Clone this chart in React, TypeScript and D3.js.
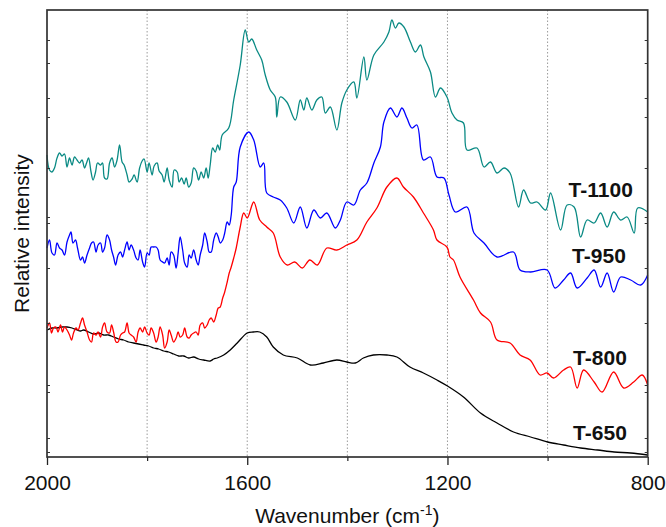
import React, { useRef, useEffect } from 'react';
import * as d3 from 'd3';

// Raman spectra, [wavenumber (cm-1), relative intensity (a.u.)]
const t650: [number, number][] = [
  [2000, 127], [1990, 129], [1980, 129], [1970, 130], [1960, 130], [1950, 129], [1940, 127],
  [1933, 126], [1927, 127], [1917, 125], [1907, 123], [1897, 124], [1887, 122], [1877, 122],
  [1867, 120], [1857, 118], [1847, 117], [1837, 115], [1827, 114], [1817, 113], [1807, 112],
  [1797, 111], [1787, 109], [1777, 108], [1767, 106], [1757, 105], [1747, 103], [1737, 101],
  [1727, 101], [1717, 99], [1707, 100], [1697, 98], [1687, 97], [1674, 96], [1667, 98],
  [1660, 99], [1647, 102], [1634, 107], [1620, 114], [1600, 124], [1588, 125], [1575, 125],
  [1561, 120], [1548, 110], [1528, 102], [1500, 99], [1474, 92], [1448, 94], [1421, 97],
  [1401, 95], [1384, 94], [1368, 99], [1348, 102], [1321, 102], [1301, 100], [1275, 90],
  [1248, 84], [1221, 77], [1200, 71], [1168, 60], [1134, 44], [1101, 34], [1068, 25],
  [1034, 20], [1000, 15], [968, 12], [934, 9], [900, 7], [867, 5], [834, 4], [800, 2],
];

const t800: [number, number][] = [
  [2000, 129], [1995, 134], [1991, 124], [1987, 129], [1982, 130], [1978, 125], [1973, 132],
  [1969, 125], [1965, 130], [1960, 127], [1955, 122], [1951, 117], [1947, 124], [1942, 129],
  [1938, 127], [1933, 134], [1929, 139], [1925, 132], [1920, 125], [1915, 117], [1911, 115],
  [1907, 124], [1902, 122], [1898, 125], [1893, 120], [1889, 130], [1885, 134], [1880, 125],
  [1875, 124], [1871, 132], [1867, 125], [1862, 115], [1858, 115], [1853, 122], [1849, 124],
  [1845, 125], [1840, 134], [1836, 124], [1832, 122], [1827, 120], [1822, 115], [1818, 125],
  [1814, 129], [1809, 125], [1805, 130], [1800, 124], [1796, 122], [1792, 129], [1787, 124],
  [1782, 115], [1778, 120], [1774, 130], [1769, 122], [1765, 109], [1760, 115], [1756, 127],
  [1752, 122], [1747, 115], [1742, 119], [1738, 125], [1734, 120], [1729, 122], [1725, 129],
  [1720, 120], [1716, 119], [1712, 122], [1707, 124], [1702, 125], [1698, 122], [1694, 132],
  [1689, 134], [1685, 129], [1680, 132], [1676, 137], [1672, 139], [1667, 135], [1662, 142],
  [1658, 149], [1654, 150], [1649, 159], [1645, 165], [1640, 175], [1636, 184], [1632, 190],
  [1627, 199], [1622, 209], [1614, 230], [1607, 244], [1600, 239], [1587, 255], [1575, 237],
  [1561, 230], [1548, 224], [1534, 200], [1520, 192], [1505, 195], [1490, 189], [1475, 197],
  [1460, 192], [1441, 209], [1421, 207], [1401, 212], [1381, 217], [1361, 235], [1341, 249],
  [1321, 270], [1301, 279], [1288, 270], [1268, 260], [1248, 244], [1228, 227], [1221, 217],
  [1201, 210], [1195, 200], [1188, 197], [1175, 180], [1148, 157], [1134, 144], [1114, 135],
  [1101, 117], [1075, 114], [1055, 102], [1035, 97], [1015, 82], [1001, 84], [988, 79],
  [968, 87], [954, 90], [941, 69], [928, 87], [907, 75], [891, 65], [868, 85], [848, 69],
  [828, 75], [811, 82], [800, 72],
];

const t950: [number, number][] = [
  [2000, 209], [1995, 217], [1990, 204], [1985, 202], [1980, 214], [1975, 209], [1970, 207],
  [1965, 202], [1960, 215], [1955, 222], [1952, 225], [1948, 214], [1943, 217], [1939, 209],
  [1933, 197], [1929, 200], [1925, 194], [1920, 202], [1915, 209], [1911, 214], [1907, 215],
  [1902, 205], [1898, 212], [1893, 214], [1889, 205], [1885, 209], [1880, 222], [1875, 217],
  [1871, 207], [1867, 200], [1863, 192], [1858, 202], [1853, 205], [1849, 200], [1845, 207],
  [1840, 215], [1836, 207], [1832, 212], [1827, 207], [1822, 199], [1818, 197], [1814, 207],
  [1809, 195], [1805, 190], [1800, 204], [1796, 202], [1792, 210], [1787, 210], [1782, 210],
  [1778, 207], [1774, 197], [1769, 195], [1765, 194], [1760, 199], [1756, 192], [1752, 205],
  [1747, 202], [1742, 189], [1738, 204], [1734, 220], [1729, 207], [1725, 194], [1720, 190],
  [1716, 202], [1712, 199], [1707, 207], [1702, 197], [1698, 192], [1694, 202], [1689, 212],
  [1685, 224], [1680, 215], [1676, 205], [1672, 205], [1667, 217], [1662, 224], [1658, 220],
  [1654, 214], [1649, 217], [1645, 224], [1640, 235], [1636, 232], [1632, 242], [1627, 270],
  [1622, 275], [1614, 310], [1597, 325], [1587, 317], [1574, 290], [1567, 294], [1561, 264],
  [1548, 260], [1534, 257], [1521, 249], [1507, 234], [1494, 250], [1481, 229], [1467, 247],
  [1454, 239], [1441, 244], [1424, 229], [1414, 237], [1401, 255], [1387, 252], [1374, 267],
  [1361, 274], [1347, 294], [1334, 310], [1327, 335], [1314, 349], [1301, 340], [1291, 349],
  [1281, 339], [1271, 329], [1261, 332], [1248, 297], [1234, 300], [1221, 280], [1207, 279],
  [1197, 262], [1184, 245], [1161, 250], [1147, 224], [1127, 214], [1101, 200], [1068, 205],
  [1055, 187], [1034, 185], [1001, 187], [985, 169], [968, 177], [954, 184], [941, 169],
  [921, 179], [907, 187], [894, 170], [881, 184], [868, 165], [854, 180], [834, 177],
  [814, 172], [800, 182],
];

const t1100: [number, number][] = [
  [2000, 302], [1995, 287], [1990, 285], [1985, 289], [1980, 299], [1975, 304], [1970, 301],
  [1965, 303], [1960, 290], [1955, 299], [1950, 292], [1945, 300], [1940, 297], [1935, 294],
  [1930, 297], [1925, 289], [1921, 294], [1917, 299], [1912, 285], [1908, 277], [1903, 285],
  [1899, 294], [1893, 292], [1889, 294], [1885, 279], [1880, 278], [1875, 294], [1870, 299],
  [1865, 290], [1860, 297], [1855, 312], [1850, 295], [1846, 292], [1840, 282], [1836, 275],
  [1830, 278], [1826, 282], [1820, 275], [1815, 289], [1810, 296], [1806, 298], [1800, 285],
  [1796, 294], [1790, 282], [1786, 291], [1780, 294], [1776, 286], [1770, 282], [1766, 275],
  [1760, 289], [1756, 277], [1750, 270], [1746, 287], [1740, 285], [1736, 275], [1731, 279],
  [1726, 273], [1722, 279], [1717, 270], [1712, 274], [1707, 289], [1702, 286], [1697, 277],
  [1692, 285], [1687, 279], [1682, 289], [1678, 279], [1674, 292], [1669, 309], [1664, 305],
  [1659, 312], [1655, 307], [1650, 322], [1637, 329], [1627, 357], [1614, 392], [1604, 427],
  [1597, 415], [1591, 418], [1581, 407], [1571, 397], [1564, 382], [1554, 367], [1544, 360],
  [1541, 340], [1534, 360], [1521, 355], [1504, 337], [1494, 357], [1487, 347], [1481, 359],
  [1471, 347], [1461, 357], [1451, 360], [1444, 344], [1434, 350], [1421, 327], [1411, 354],
  [1401, 367], [1387, 375], [1381, 359], [1367, 400], [1361, 377], [1347, 402], [1327, 415],
  [1317, 425], [1311, 437], [1304, 429], [1297, 434], [1287, 430], [1274, 415], [1264, 405],
  [1254, 412], [1247, 400], [1234, 385], [1224, 360], [1214, 369], [1201, 360], [1191, 344],
  [1181, 337], [1168, 334], [1161, 307], [1141, 309], [1127, 290], [1114, 295], [1101, 284],
  [1087, 289], [1075, 284], [1058, 250], [1048, 267], [1034, 254], [1021, 255], [1004, 247],
  [994, 264], [974, 227], [961, 252], [947, 250], [934, 220], [921, 237], [907, 234],
  [894, 244], [881, 230], [868, 245], [854, 237], [841, 240], [827, 224], [820, 249], [800, 245],
];

const seriesNames = ['T-650', 'T-800', 'T-950', 'T-1100'];
const seriesData = [t650, t800, t950, t1100];
const seriesColors = ['#000000', '#ff0000', '#0000ff', '#0a8a84'];
// label anchor: [wavenumber, intensity]
const labelAnchors: [number, number][] = [[949, 17], [949, 92], [951, 194], [958, 260]];

const majorTicks = [2000, 1600, 1200, 800];
const minorTicks = [1800, 1400, 1000];
const gridLines = [1800, 1600, 1400, 1200, 1000];
const yTicks = [417, 394, 359, 340, 289, 240, 234, 189, 134, 72, 65, 19, 5];

const W = 666, H = 527;
const margin = { top: 10, right: 18.3, bottom: 70, left: 47 };
const FONT = "'Liberation Sans', Arial, Helvetica, sans-serif";

const App = () => {
  const svgRef = useRef<SVGSVGElement>(null);

  useEffect(() => {
    const svg = d3.select(svgRef.current);
    svg.selectAll('*').remove();

    const x = d3.scaleLinear().domain([2000, 800]).range([margin.left, W - margin.right]);
    const y = d3.scaleLinear().domain([0, 447]).range([H - margin.bottom, margin.top]);
    const [x0, x1] = x.range();
    const [yb, yt] = y.range();

    // dotted grid
    svg.append('g')
      .selectAll('line')
      .data(gridLines)
      .enter()
      .append('line')
      .attr('x1', d => x(d)).attr('x2', d => x(d))
      .attr('y1', yt).attr('y2', yb)
      .attr('stroke', '#9a9a9a')
      .attr('stroke-width', 1)
      .attr('stroke-dasharray', '1.5,2');

    // spectra
    const line = d3.line<[number, number]>()
      .x(d => x(d[0]))
      .y(d => y(d[1]))
      .curve(d3.curveCatmullRom.alpha(0.5));

    svg.append('g')
      .selectAll('path')
      .data(seriesData)
      .enter()
      .append('path')
      .attr('d', d => line(d))
      .attr('fill', 'none')
      .attr('stroke', (d, i) => seriesColors[i])
      .attr('stroke-width', 1.3)
      .attr('stroke-linejoin', 'round');

    // labels
    svg.append('g')
      .selectAll('text')
      .data(seriesNames)
      .enter()
      .append('text')
      .attr('x', (d, i) => x(labelAnchors[i][0]))
      .attr('y', (d, i) => y(labelAnchors[i][1]))
      .attr('font-family', FONT)
      .attr('font-size', 21)
      .attr('font-weight', 'bold')
      .attr('fill', '#111')
      .text(d => d);

    // x axis
    const xAxis = d3.axisBottom(x)
      .tickValues(majorTicks)
      .tickSize(8)
      .tickPadding(10)
      .tickFormat(d3.format('d'));

    const gx = svg.append('g')
      .attr('transform', `translate(0, ${yb})`)
      .call(xAxis);
    gx.select('.domain').remove();
    gx.selectAll('line').attr('stroke', '#222').attr('stroke-width', 1.3);
    gx.selectAll('text')
      .attr('font-family', FONT)
      .attr('font-size', 21)
      .attr('fill', '#111');

    svg.append('g')
      .attr('transform', `translate(0, ${yb})`)
      .call(d3.axisBottom(x).tickValues(minorTicks).tickSize(4).tickFormat(() => ''))
      .call(g => g.select('.domain').remove())
      .selectAll('line').attr('stroke', '#222').attr('stroke-width', 1.2);

    // y ticks (inward, both sides)
    svg.append('g')
      .attr('transform', `translate(${x0}, 0)`)
      .call(d3.axisRight(y).tickValues(yTicks).tickSize(3).tickFormat(() => ''))
      .call(g => g.select('.domain').remove())
      .selectAll('line').attr('stroke', '#333');

    svg.append('g')
      .attr('transform', `translate(${x1}, 0)`)
      .call(d3.axisLeft(y).tickValues(yTicks).tickSize(3).tickFormat(() => ''))
      .call(g => g.select('.domain').remove())
      .selectAll('line').attr('stroke', '#333');

    // frame
    svg.append('rect')
      .attr('x', x0).attr('y', yt)
      .attr('width', x1 - x0).attr('height', yb - yt)
      .attr('fill', 'none')
      .attr('stroke', '#333')
      .attr('stroke-width', 1.7);

    // axis titles
    const xt = svg.append('text')
      .attr('x', (x0 + x1) / 2)
      .attr('y', 523)
      .attr('text-anchor', 'middle')
      .attr('font-family', FONT)
      .attr('font-size', 21)
      .attr('fill', '#111');
    xt.append('tspan').text('Wavenumber (cm');
    xt.append('tspan').attr('font-size', 14).attr('dy', -8).text('-1');
    xt.append('tspan').attr('dy', 8).text(')');

    svg.append('text')
      .attr('transform', `translate(29, ${(yt + yb) / 2}) rotate(-90)`)
      .attr('text-anchor', 'middle')
      .attr('font-family', FONT)
      .attr('font-size', 21)
      .attr('fill', '#111')
      .text('Relative intensity');
  }, []);

  return (
    <svg
      ref={svgRef}
      width={W}
      height={H}
      style={{ position: 'absolute', left: 0, top: 0, background: '#fff' }}
    ></svg>
  );
};

export default App;
